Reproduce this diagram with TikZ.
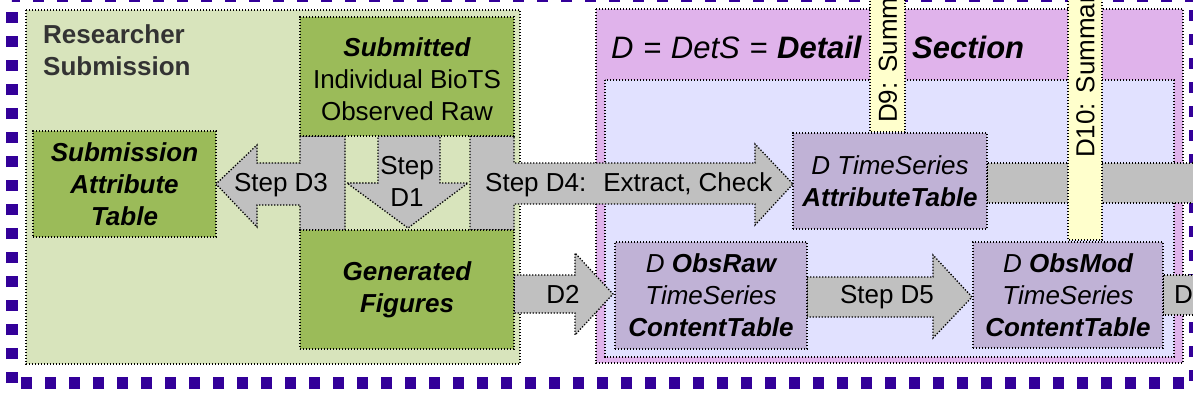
\documentclass[tikz,border=0pt]{standalone}
\usepackage{fontspec}
\setmainfont{Liberation Sans}
\definecolor{framec}{HTML}{330099}
\definecolor{lgreen}{HTML}{D8E4BC}
\definecolor{dgreen}{HTML}{9BBB59}
\definecolor{agrey}{HTML}{C0C0C0}
\definecolor{pinkp}{HTML}{E0B3EB}
\definecolor{lav}{HTML}{E1E1FF}
\definecolor{purp}{HTML}{C0B2D6}
\definecolor{yel}{HTML}{FFFFCC}
\definecolor{dtext}{HTML}{333333}
\newcommand\myfs{\fontsize{26}{32}\selectfont}
\newcommand\mytfs{\fontsize{31}{36}\selectfont}
\newcommand\bi{\bfseries\itshape}
\begin{document}
\begin{tikzpicture}[x=1pt,y=-1pt,
  dotb/.style={draw=black, line width=1.3pt, dash pattern=on 1.3pt off 1.7pt},
  panel/.style={dotb},
  box/.style={dotb, inner sep=0pt, align=center, font=\myfs},
  gbox/.style={box, fill=dgreen},
  pbox/.style={box, fill=purp},
  blk/.style={dotb, fill=agrey, line join=miter},
  lbl/.style={inner sep=0pt, align=center, font=\myfs},
  band/.style={dotb, fill=yel},
  vlbl/.style={inner sep=0pt, font=\myfs, rotate=90, anchor=west}
]
\useasboundingbox (0,0) rectangle (1193,404);
\clip (0,0) rectangle (1193,404);

% outer dashed frame
\draw[framec, line width=12pt, dash pattern=on 11pt off 13pt] (12,383) -- (12,-4) -- (1195,-4) -- (1195,383) -- cycle;

% researcher submission panel
\draw[panel, fill=lgreen] (26,10) rectangle (520,364);
\node[inner sep=0pt, anchor=north west, align=left, font=\myfs\bfseries, text=dtext] (rstitle) at (43,24) {Researcher\\Submission};

% detail section panels
\draw[panel, fill=pinkp] (596,9) rectangle (1183,363);
\draw[panel, fill=lav] (605,80) rectangle (1174,357);
\node[inner sep=0pt, anchor=west, font=\mytfs] (dstitle) at (611,47) {\itshape D\hspace{1pt} =\hspace{1pt} DetS\hspace{1pt} =\hspace{1pt} \bi Detail};
\node[inner sep=0pt, anchor=west, font=\mytfs] (dstitle2) at (912,47) {\bi Section};

% grey band right of attribute table
\draw[blk] (987,163) rectangle (1200,203);

% Step D3 (with block)
\draw[blk] (345,136) -- (300,136) -- (300,163) -- (257,163) -- (257,145) -- (216,184) -- (257,227) -- (257,205) -- (300,205) -- (300,230) -- (345,230) -- cycle;
% Step D1
\draw[blk] (378,136) -- (440,136) -- (440,183) -- (468,183) -- (408,228) -- (347,183) -- (378,183) -- cycle;
% Step D4 (with block)
\draw[blk] (470,136) -- (514,136) -- (514,163) -- (755,163) -- (755,144) -- (793,184) -- (755,225) -- (755,204) -- (514,204) -- (514,230) -- (470,230) -- cycle;
% D2
\draw[blk] (514,275) -- (575,275) -- (575,253) -- (613,294) -- (575,335) -- (575,313) -- (514,313) -- cycle;
% D5
\draw[blk] (807,277) -- (933,277) -- (933,255) -- (972,297) -- (933,338) -- (933,317) -- (807,317) -- cycle;
% D6 (cut)
\draw[blk] (1163,275) rectangle (1205,315);

% boxes
\node[gbox, minimum width=214pt, minimum height=119pt] (sub) at (407,76.5) {\rule{0pt}{25pt}{\bi Submitted}\\Individual BioTS\\Observed Raw};
\node[gbox, minimum width=183pt, minimum height=106pt] (att) at (124.5,184) {\bi Submission\\\bi Attribute\\\bi Table};
\node[gbox, minimum width=214pt, minimum height=119pt] (gen) at (407,289.5) {\bi Generated\\\bi Figures};
\node[pbox, minimum width=194pt, minimum height=96pt] (ats) at (890,181) {\itshape D TimeSeries\\\bi AttributeTable};
\node[pbox, minimum width=192pt, minimum height=107pt] (raw) at (711,295.5) {{\itshape D }{\bi ObsRaw}\\\itshape TimeSeries\\\bi ContentTable};
\node[pbox, minimum width=190pt, minimum height=106pt] (mod) at (1068,295) {{\itshape D }{\bi ObsMod}\\\itshape TimeSeries\\\bi ContentTable};

% arrow labels
\node[lbl] (l3) at (281,185) {Step D3};
\node[lbl] (l1) at (407,181) {Step\\D1};
\node[lbl, anchor=west] (l4) at (485,185) {Step D4:\hspace{17pt}Extract, Check};
\node[lbl] (l2) at (563,294) {D2};
\node[lbl] (l5) at (887,297) {Step D5};
\node[lbl, anchor=west] (l6) at (1174,295) {D};

% yellow summary bands
\draw[band] (870,-5) rectangle (905,132);
\node[vlbl] (d9) at (888,123) {D9: Summ};
\draw[band] (1068,-5) rectangle (1102,240);
\node[vlbl] (d10) at (1085.5,158) {D10: Summar};
\end{tikzpicture}
\end{document}
